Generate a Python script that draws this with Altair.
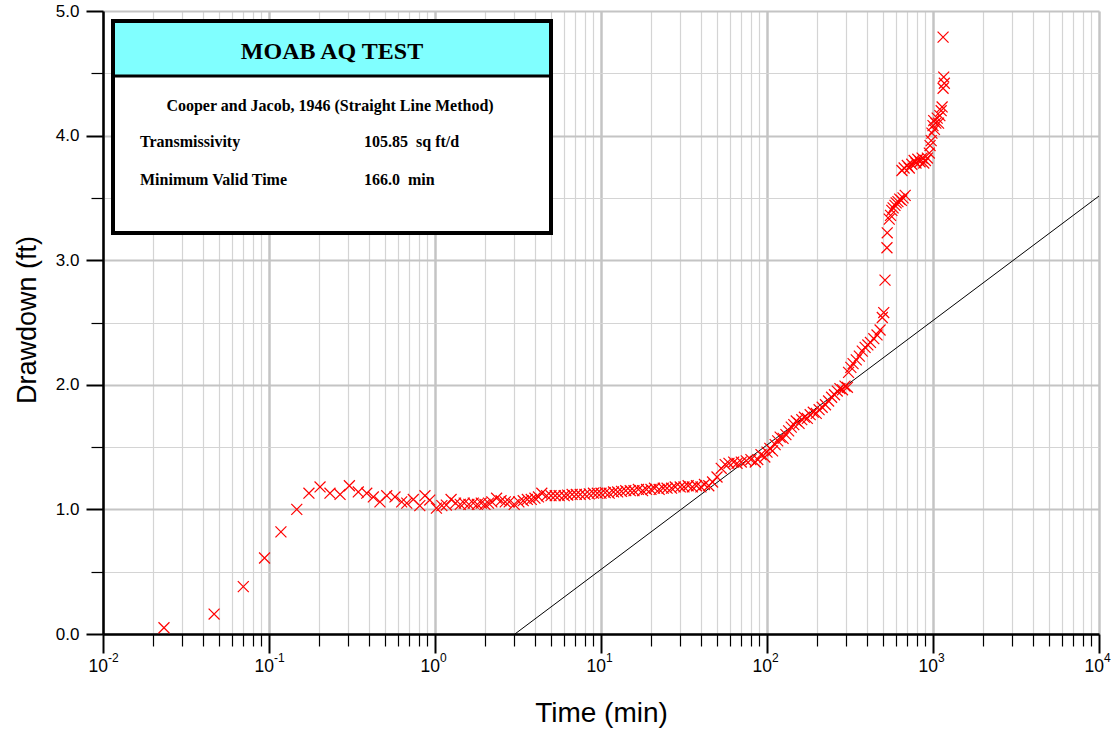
import altair as alt
import pandas as pd

# ---------------- data ----------------
time_min = [
    0.0233, 0.0467, 0.07, 0.094, 0.118, 0.147, 0.174, 0.203, 0.233, 0.268,
    0.305, 0.345, 0.388, 0.425, 0.466, 0.512, 0.574, 0.63, 0.676, 0.74,
    0.81, 0.87, 0.93, 1.02, 1.1, 1.17,
    1.25, 1.33, 1.42, 1.5, 1.6, 1.7, 1.8, 1.9, 2.0, 2.1, 2.2, 2.35, 2.5, 2.65,
    2.8, 3.0, 3.2, 3.4, 3.6, 3.8, 4.0, 4.2, 4.4, 4.7, 5.0, 5.3, 5.6, 6.0, 6.3,
    6.7, 7.1, 7.5, 8.0, 8.5, 9.0, 9.5,
    10, 10.6, 11.2, 11.9, 12.6, 13.3, 14.1, 15, 15.8, 16.8, 17.8, 18.8, 20, 21,
    22.4, 23.7, 25, 26.6, 28, 30, 31.6, 33.5, 35.5, 37.6, 40, 42, 44.6, 47,
    50, 53, 56, 59, 63, 66, 70, 75, 80, 85, 88,
    92, 97, 100, 104, 108, 112, 116, 120, 125, 130, 135, 140, 145, 150, 156,
    162, 168, 175, 182, 190, 198, 206, 215, 225, 235, 245, 255, 265, 275, 285,
    295, 305,
    310, 320, 330, 345, 360, 375, 390, 405, 420, 440, 460, 480, 495, 505,
    514, 528, 530, 545, 555, 565, 575, 590, 600, 615, 630, 645, 660, 680,
    650, 670, 700, 720, 745, 770, 790, 810, 835, 860, 880, 900, 925, 950,
    960, 975, 985, 1000, 1010, 1020, 1040, 1060, 1080, 1100, 1120, 1135,
    1150, 1170, 1160, 1150,
]
drawdown_ft = [
    0.05, 0.16, 0.38, 0.61, 0.82, 1.00, 1.13, 1.18, 1.13, 1.12,
    1.19, 1.14, 1.13, 1.10, 1.06, 1.11, 1.10, 1.06, 1.05, 1.08,
    1.03, 1.11, 1.075, 1.01, 1.03, 1.035,
    1.08, 1.05, 1.04, 1.05, 1.04, 1.05, 1.04, 1.05, 1.04, 1.05, 1.06, 1.09, 1.07, 1.06,
    1.06, 1.04, 1.06, 1.07, 1.08, 1.08, 1.09, 1.10, 1.13, 1.11, 1.11, 1.11, 1.11, 1.11, 1.115,
    1.12, 1.12, 1.12, 1.12, 1.125, 1.13, 1.13,
    1.13, 1.135, 1.13, 1.14, 1.14, 1.145, 1.15, 1.15, 1.15, 1.16, 1.15, 1.16, 1.16, 1.17,
    1.16, 1.17, 1.17, 1.17, 1.18, 1.18, 1.18, 1.19, 1.18, 1.19, 1.18, 1.20, 1.19, 1.22,
    1.26, 1.33, 1.36, 1.37, 1.38, 1.37, 1.38, 1.39, 1.40, 1.38, 1.40,
    1.44, 1.42, 1.46, 1.49, 1.47, 1.52, 1.55, 1.58, 1.57, 1.60, 1.63, 1.66, 1.68, 1.71, 1.69,
    1.72, 1.74, 1.73, 1.76, 1.78, 1.77, 1.80, 1.82, 1.84, 1.87, 1.90, 1.92, 1.95, 1.97, 1.96,
    1.99, 1.98,
    2.10, 2.14, 2.17, 2.20, 2.23, 2.27, 2.30, 2.32, 2.34, 2.37, 2.40, 2.44, 2.54, 2.58,
    2.84, 3.10, 3.22, 3.33, 3.36, 3.40, 3.42, 3.44, 3.46, 3.47, 3.49, 3.48, 3.50, 3.52,
    3.72, 3.74, 3.76, 3.74, 3.77, 3.80, 3.78, 3.81, 3.79, 3.82, 3.78, 3.80, 3.82, 3.86,
    3.92, 3.96, 4.02, 4.08, 4.12, 4.05, 4.10, 4.14, 4.10, 4.16, 4.20, 4.23,
    4.38, 4.42, 4.47, 4.79,
]

# Cooper-Jacob straight line (end points)
line_time = [3.03, 10000]
line_drawdown = [0.0, 3.515]

# axis ticks
x_exponents = [-2, -1, 0, 1, 2, 3, 4]
x_exp_text = ["-2", "-1", "0", "1", "2", "3", "4"]
x_major_values = [0.01, 0.1, 1, 10, 100, 1000, 10000]
x_minor_values = [float(f"{m}e{k}") for k in range(-2, 4) for m in range(2, 10)]
y_major_values = [0, 1, 2, 3, 4, 5]
y_minor_values = [0.5, 1.5, 2.5, 3.5, 4.5]

# text box content
box_title = "MOAB AQ TEST"
box_subtitle = "Cooper and Jacob, 1946 (Straight Line Method)"
box_labels = ["Transmissivity", "Minimum Valid Time"]
box_values = ["105.85\u00a0 sq ft/d", "166.0\u00a0 min"]

# ---------------- chart ----------------
W, H = 996, 623
SANS = "Liberation Sans"
SERIF = "Liberation Serif"
GRID_MAJOR = "#c4c4c4"
GRID_MINOR = "#d4d4d4"

xscale = alt.Scale(type="log", domain=[0.01, 10000], nice=False)
yscale = alt.Scale(domain=[0, 5], nice=False, zero=False)

x_axis_major = alt.Axis(
    orient="bottom", values=x_major_values, labels=False, title="Time (min)",
    grid=True, gridColor=GRID_MAJOR, gridWidth=2.5,
    ticks=True, tickColor="black", tickSize=19, tickWidth=2,
    domain=True, domainColor="black", domainWidth=2.5,
    titleFont=SANS, titleFontSize=28, titleFontWeight="normal", titleColor="black",
    titleX=W / 2, titleY=79, titleAlign="center", titleBaseline="middle",
)
x_axis_minor = alt.Axis(
    orient="bottom", values=x_minor_values, labels=False, title=None,
    grid=True, gridColor=GRID_MINOR, gridWidth=1.2,
    ticks=True, tickColor="black", tickSize=12, tickWidth=1.2,
    domain=False,
)
y_axis_major = alt.Axis(
    orient="left", values=y_major_values, title="Drawdown (ft)", format=".1f",
    labelFont=SANS, labelFontSize=17, labelColor="black", labelPadding=7,
    grid=True, gridColor=GRID_MAJOR, gridWidth=2.2,
    ticks=True, tickColor="black", tickSize=17, tickWidth=2,
    domain=True, domainColor="black", domainWidth=2.5,
    titleFont=SANS, titleFontSize=27, titleFontWeight="normal", titleColor="black",
    titleAngle=-90, titleX=-76, titleY=H / 2 - 3, titleAlign="center", titleBaseline="middle",
)
y_axis_minor = alt.Axis(
    orient="left", values=y_minor_values, labels=False, title=None,
    grid=True, gridColor=GRID_MINOR, gridWidth=1.2,
    ticks=True, tickColor="black", tickSize=12, tickWidth=1.2,
    domain=False,
)

df = pd.DataFrame({"t": time_min, "s": drawdown_ft})
line_df = pd.DataFrame({"t": line_time, "s": line_drawdown})
lab_df = pd.DataFrame({"t": [10.0 ** e for e in x_exponents], "base": ["10"] * 7, "sup": x_exp_text})
one = pd.DataFrame({"a": [0]})

# minor grid / ticks carried by the straight-line layer
line = alt.Chart(line_df).mark_line(color="black", strokeWidth=1).encode(
    x=alt.X("t:Q", scale=xscale, axis=x_axis_minor),
    y=alt.Y("s:Q", scale=yscale, axis=y_axis_minor),
)

points = alt.Chart(df).mark_point(
    shape="M-1,-1L1,1M1,-1L-1,1", filled=False, stroke="#ff0000",
    strokeWidth=1.2, size=120, opacity=1,
).encode(
    x=alt.X("t:Q", scale=xscale, axis=x_axis_major),
    y=alt.Y("s:Q", scale=yscale, axis=y_axis_major),
)

lab_base = alt.Chart(lab_df).mark_text(
    align="right", dx=5, baseline="alphabetic", font=SANS, fontSize=17.5, color="black"
).encode(x=alt.X("t:Q", scale=xscale, axis=None), y=alt.value(H + 38), text="base:N")
lab_sup = alt.Chart(lab_df).mark_text(
    align="left", dx=5, dy=-10, baseline="alphabetic", font=SANS, fontSize=12, color="black"
).encode(x=alt.X("t:Q", scale=xscale, axis=None), y=alt.value(H + 38), text="sup:N")

# annotation box
BX0, BX1, BY0, BY1, BHEAD = 10, 448, 10, 222, 65
box_fill = alt.Chart(one).mark_rect(fill="white").encode(
    x=alt.value(BX0), x2=alt.value(BX1), y=alt.value(BY0), y2=alt.value(BY1))
box_head = alt.Chart(one).mark_rect(fill="#80ffff").encode(
    x=alt.value(BX0), x2=alt.value(BX1), y=alt.value(BY0), y2=alt.value(BHEAD))
head_rule = alt.Chart(one).mark_rule(color="black", strokeWidth=3).encode(
    x=alt.value(BX0), x2=alt.value(BX1), y=alt.value(BHEAD))
box_border = alt.Chart(one).mark_rect(fill=None, stroke="black", strokeWidth=4, filled=False).encode(
    x=alt.value(BX0), x2=alt.value(BX1), y=alt.value(BY0), y2=alt.value(BY1))


def box_text(txt, x, y, size, align):
    return alt.Chart(one).mark_text(
        text=txt, font=SERIF, fontWeight="bold", fontSize=size, align=align,
        baseline="middle", color="black").encode(x=alt.value(x), y=alt.value(y))


t_title = box_text(box_title, 229, 41, 24, "center")
t_sub = box_text(box_subtitle, 227, 95, 16, "center")
t_l1 = box_text(box_labels[0], 37, 131, 16, "left")
t_v1 = box_text(box_values[0], 261, 131, 16, "left")
t_l2 = box_text(box_labels[1], 37, 169, 16, "left")
t_v2 = box_text(box_values[1], 261, 169, 16, "left")

chart = alt.layer(
    line, points, lab_base, lab_sup,
    box_fill, box_head, head_rule, box_border,
    t_title, t_sub, t_l1, t_v1, t_l2, t_v2,
).resolve_axis(
    x="independent", y="independent"
).properties(
    width=W, height=H,
    autosize=alt.AutoSizeParams(type="none"),
    padding={"left": 103, "top": 11, "right": 17, "bottom": 95},
    background="white",
).configure_view(stroke=None)

chart.save("out.html", embed_options={"renderer": "svg", "actions": False})
